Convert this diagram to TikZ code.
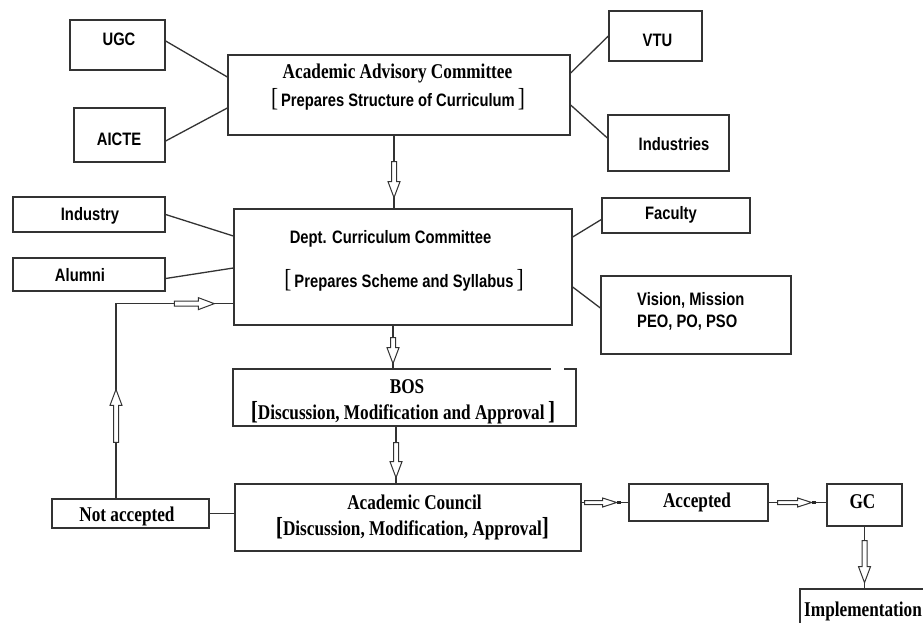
\documentclass[tikz,border=0pt]{standalone}
\usepackage{fontspec}
\newfontfamily\sfn[FakeStretch=0.82]{Liberation Sans}
\newfontfamily\srf[FakeStretch=0.82]{Liberation Serif}
\usetikzlibrary{decorations.markings,calc}
\newcommand\slb{{\srf\mdseries\fontsize{26}{26}\selectfont[}}
\newcommand\srb{{\srf\mdseries\fontsize{26}{26}\selectfont]}}
\newcommand\blb{{\srf\bfseries\fontsize{26}{26}\selectfont[}}
\newcommand\brb{{\srf\bfseries\fontsize{26}{26}\selectfont]}}
\begin{document}
\begin{tikzpicture}[x=1pt,y=-1pt,
  box/.style={draw=black!80, line width=1.3pt, inner sep=0pt},
  conn/.style={draw=black!80, line width=1.3pt},
  sans/.style={font=\sfn\bfseries\fontsize{18}{21}\selectfont, inner sep=0pt, anchor=base},
  serif/.style={font=\srf\bfseries\fontsize{21}{23}\selectfont, inner sep=0pt, anchor=base},
  harrow/.style 2 args={postaction={decorate,decoration={markings,
    mark=at position #1 with {\draw[draw=black!80,fill=white,line width=1pt]
      (0,0) -- (-16,6) -- (-16,2.5) -- (-16-#2,2.5) -- (-16-#2,-2.5) -- (-16,-2.5) -- (-16,-6) -- cycle;}}}},
  sarrow/.style 2 args={postaction={decorate,decoration={markings,
    mark=at position #1 with {\draw[draw=black!80,fill=white,line width=1pt]
      (0,0) -- (-14,4.5) -- (-14,2) -- (-14-#2,2) -- (-14-#2,-2) -- (-14,-2) -- (-14,-4.5) -- cycle;
      \fill[black!85] (0,-1.2) rectangle (4,1.2);}}}}
]
\useasboundingbox (0,0) rectangle (923,623);
\clip (0,0) rectangle (923,623);
\fill[white] (0,0) rectangle (923,623);

% boxes
\node[box, minimum width=95pt, minimum height=50pt] (ugc) at (117.5,45) {};
\node[box, minimum width=91pt, minimum height=54pt] (aicte) at (119.5,135) {};
\node[box, minimum width=342pt, minimum height=80pt] (aac) at (399,95) {};
\node[box, minimum width=93pt, minimum height=50pt] (vtu) at (655.5,36) {};
\node[box, minimum width=121pt, minimum height=56pt] (inds) at (668.5,143) {};
\node[box, minimum width=152pt, minimum height=35pt] (indy) at (89,214.5) {};
\node[box, minimum width=152pt, minimum height=33pt] (alum) at (89,274.5) {};
\node[box, minimum width=338pt, minimum height=116pt] (dcc) at (403,267) {};
\node[box, minimum width=148pt, minimum height=35pt] (fac) at (676,215.5) {};
\node[box, minimum width=190pt, minimum height=78pt] (vis) at (696,315) {};
\node[box, minimum width=343pt, minimum height=57pt] (bos) at (404.5,397.5) {};
\node[box, minimum width=346pt, minimum height=67pt] (ac) at (408,517.5) {};
\node[box, minimum width=157pt, minimum height=29pt] (nacc) at (130.5,513.5) {};
\node[box, minimum width=139pt, minimum height=37pt] (acc) at (698.5,502.5) {};
\node[box, minimum width=75pt, minimum height=42pt] (gc) at (864.5,505) {};
\node[box, minimum width=135pt, minimum height=46pt] (impl) at (867.5,612) {};

% gap in BOS top border
\draw[white, line width=3pt] ([xshift=-26pt]bos.north east) -- ([xshift=-13pt]bos.north east);

% texts
\node[sans] (tugc) at (119,46) {UGC};
\node[sans] (taicte) at (119,146) {AICTE};
\node[serif] (taac1) at (397.5,79) {Academic Advisory Committee};
\node[sans] (taac2) at (398,107) {\slb\,Prepares Structure of Curriculum\,\srb};
\node[sans] (tvtu) at (657.5,47) {VTU};
\node[sans] (tinds) at (674,150) {Industries};
\node[sans] (tindy) at (90,220) {Industry};
\node[sans] (talum) at (80,281) {Alumni};
\node[sans] (tdcc1) at (390.5,243) {Dept. Curriculum Committee};
\node[sans] (tdcc2) at (404,287) {\slb\,Prepares Scheme and Syllabus\,\srb};
\node[sans] (tfac) at (671,219) {Faculty};
\node[sans, anchor=base west] (tvis1) at (637,305) {Vision, Mission};
\node[sans, anchor=base west] (tvis2) at (637,327) {PEO, PO, PSO};
\node[serif] (tbos1) at (407,393) {BOS};
\node[serif] (tbos2) at (403,419) {\blb Discussion, Modification and Approval\,\brb};
\node[serif] (tac1) at (414.5,509) {Academic Council};
\node[serif] (tac2) at (412.5,535) {\blb Discussion, Modification, Approval\brb};
\node[serif] (tnacc) at (127,521) {Not accepted};
\node[serif] (tacc) at (697,507) {Accepted};
\node[serif] (tgc) at (862.5,508) {GC};
\node[serif, anchor=base west] (timpl) at (804,616) {Implementation};

% connectors
\draw[conn] ([yshift=4pt]ugc.east) -- ([yshift=18pt]aac.west);
\draw[conn] ([yshift=-6pt]aicte.east) -- ([yshift=-13pt]aac.west);
\draw[conn] ([yshift=22pt]aac.east) -- (vtu.west);
\draw[conn] ([yshift=-10pt]aac.east) -- ([yshift=5pt]inds.west);
\draw[conn, harrow={62pt}{20}] ([xshift=-5pt]aac.south) -- ([xshift=-5pt]aac.south |- dcc.north);
\draw[conn] (indy.east) -- ([yshift=31pt]dcc.west);
\draw[conn] ([yshift=-4pt]alum.east) -- ([yshift=-1pt]dcc.west);
\draw[conn] ([yshift=30pt]dcc.east) -- ([yshift=-4pt]fac.west);
\draw[conn] ([yshift=-20pt]dcc.east) -- ([yshift=7pt]vis.west);
\draw[conn, harrow={38pt}{10}] ([xshift=-10pt]dcc.south) -- ([xshift=-10pt]dcc.south |- bos.north);
\draw[conn, harrow={51pt}{19}] ([xshift=-8.5pt]bos.south) -- ([xshift=-8.5pt]bos.south |- ac.north);
\draw[conn] (ac.west |- nacc.east) -- (nacc.east);
\draw[conn, harrow={109pt}{37}, harrow={293pt}{24}] ([xshift=-14.5pt]nacc.north) |- ([yshift=22pt]dcc.south west);
\draw[conn, sarrow={35pt}{18}] (acc.west -| ac.east) -- (acc.west);
\draw[conn, sarrow={43pt}{20}] (acc.east) -- (acc.east -| gc.west);
\draw[conn, harrow={56pt}{26}] (gc.south) -- (gc.south |- impl.north);
\end{tikzpicture}
\end{document}
